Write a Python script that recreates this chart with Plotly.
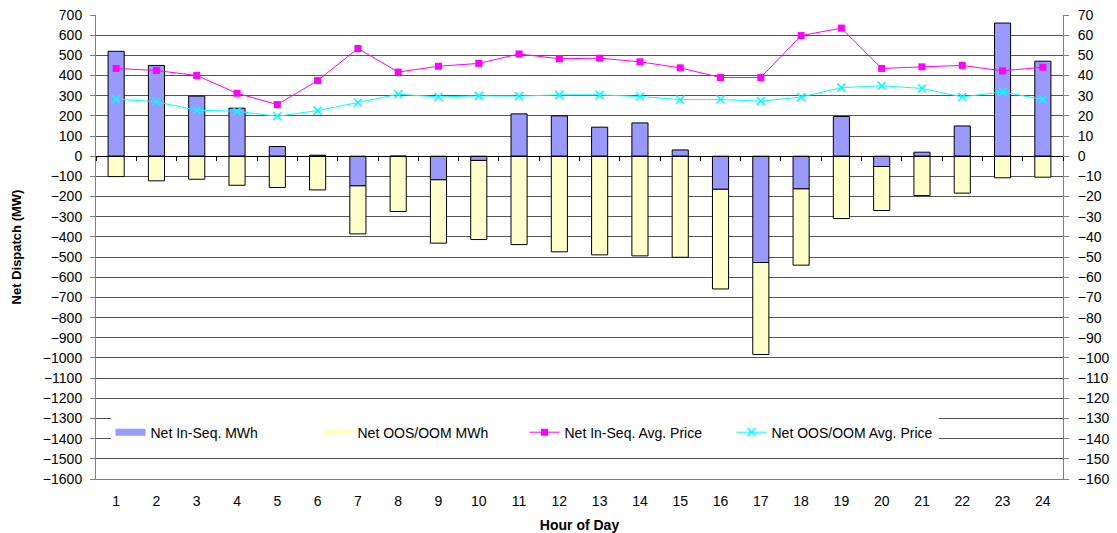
import plotly.graph_objects as go

hours = list(range(1, 25))

# MWh by hour (left axis)
in_seq_mwh = [520, 450, 298, 238, 48, 5, -147, 0, -117, -21, 210, 200,
              144, 165, 31, -164, -527, -162, 197, -51, 20, 150, 660, 471]
oos_oom_mwh = [-101, -122, -114, -144, -155, -167, -238, -274, -314, -392, -438, -474,
               -489, -494, -501, -494, -456, -378, -309, -218, -195, -183, -107, -104]

# Average prices by hour (right axis)
in_seq_price = [43.5, 42.5, 40.0, 31.2, 25.6, 37.5, 53.4, 41.7, 44.6, 46.0, 50.7, 48.3,
                48.6, 46.8, 43.8, 39.0, 39.0, 59.8, 63.5, 43.5, 44.3, 45.0, 42.3, 44.1]
oos_oom_price = [28.3, 27.0, 22.8, 22.3, 19.8, 22.6, 26.6, 30.7, 29.4, 29.9, 29.8, 30.4,
                 30.4, 29.6, 28.1, 28.1, 27.3, 29.3, 34.0, 34.9, 33.6, 29.4, 31.9, 28.1]

left_ticks = list(range(-1600, 701, 100))
right_ticks = list(range(-160, 71, 10))

FONT = "Liberation Sans, Arial, sans-serif"
Y_MIN, Y_MAX = -1600, 700
BLUE, YELLOW = "#9999FF", "#FFFFCC"

fig = go.Figure()
fig.add_trace(go.Bar(
    x=hours, y=in_seq_mwh, name="Net In-Seq. MWh", width=0.4, showlegend=False,
    marker=dict(color=BLUE, line=dict(color="#000000", width=1)),
))
fig.add_trace(go.Bar(
    x=hours, y=oos_oom_mwh, name="Net OOS/OOM MWh", width=0.4, showlegend=False,
    marker=dict(color=YELLOW, line=dict(color="#000000", width=1)),
))

# wide legend swatches for the bar series
for name, col in [("Net In-Seq. MWh", BLUE), ("Net OOS/OOM MWh", YELLOW)]:
    fig.add_trace(go.Scatter(
        x=[None], y=[None], name=name, mode="lines",
        line=dict(color=col, width=7), hoverinfo="skip",
    ))

fig.add_trace(go.Scatter(
    x=hours, y=in_seq_price, name="Net In-Seq. Avg. Price", yaxis="y2",
    mode="lines+markers", line=dict(color="#FF00FF", width=1),
    marker=dict(symbol="square", size=7, color="#FF00FF"),
))
fig.add_trace(go.Scatter(
    x=hours, y=oos_oom_price, name="Net OOS/OOM Avg. Price", yaxis="y2",
    mode="lines+markers", line=dict(color="#00FFFF", width=1),
    marker=dict(symbol="x-thin", size=8, color="#00FFFF",
                line=dict(color="#00FFFF", width=1.5)),
))

zero_pos = (0 - Y_MIN) / (Y_MAX - Y_MIN)

fig.update_layout(
    width=1117, height=533,
    margin=dict(l=96, r=54, t=15, b=54, autoexpand=False),
    paper_bgcolor="white", plot_bgcolor="white",
    barmode="relative",
    font=dict(family=FONT, size=14, color="#000000"),
    xaxis=dict(
        range=[0.5, 24.5], tickvals=hours, ticks="", showgrid=False,
        showline=True, linecolor="#808080", linewidth=1, mirror=False,
        ticklabelstandoff=9, tickfont=dict(size=14), automargin=False,
        title=dict(text="<b>Hour of Day</b>", font=dict(size=14), standoff=12),
    ),
    # zero line with category separator ticks
    xaxis2=dict(
        overlaying="x", anchor="free", position=zero_pos, range=[0.5, 24.5],
        tickvals=[h + 0.5 for h in range(0, 25)], ticks="outside", ticklen=4,
        tickcolor="#000000", showticklabels=False, showgrid=False, automargin=False,
        showline=True, linecolor="#000000", linewidth=1, side="bottom",
    ),
    yaxis=dict(
        range=[Y_MIN, Y_MAX], tickvals=left_ticks, ticks="outside", ticklen=5,
        tickcolor="#808080", showgrid=True, gridcolor="#555555", gridwidth=1,
        zeroline=False, showline=True, linecolor="#808080", linewidth=1,
        tickfont=dict(size=14), ticklabelstandoff=5, automargin=False,
        title=dict(text="<b>Net Dispatch (MW)</b>", font=dict(size=13), standoff=18),
    ),
    yaxis2=dict(
        range=[-160, 70], tickvals=right_ticks, overlaying="y", side="right",
        ticks="outside", ticklen=5, tickcolor="#808080", showgrid=False,
        zeroline=False, showline=True, linecolor="#808080", linewidth=1,
        tickfont=dict(size=14), ticklabelstandoff=6, automargin=False,
    ),
    legend=dict(
        orientation="h", x=0.015, xanchor="left", y=0.1, yanchor="middle",
        bgcolor="white", borderwidth=0, font=dict(size=14), traceorder="normal",
        itemwidth=30, entrywidth=162,
    ),
    showlegend=True,
)

# empty trace so the zero-line axis is rendered
fig.add_trace(go.Scatter(x=[None], y=[None], xaxis="x2", showlegend=False, hoverinfo="skip"))

fig.write_html("out.html")
